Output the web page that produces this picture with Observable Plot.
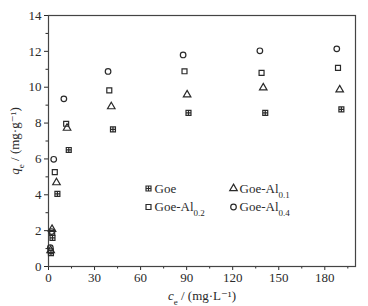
<!DOCTYPE html>
<html>
<head>
<meta charset="utf-8">
<script src="https://cdn.jsdelivr.net/npm/d3@7"></script>
<script src="https://cdn.jsdelivr.net/npm/@observablehq/plot@0.6"></script>
<style>
  html, body { margin: 0; padding: 0; background: #fff; }
  svg text { font-family: "Liberation Serif", "DejaVu Serif", serif; }
</style>
</head>
<body>
<div id="chart"></div>
<script>
// ---- data ----
const seriesNames = ["Goe", "Goe-Al0.1", "Goe-Al0.2", "Goe-Al0.4"];
const goeX  = [1.6, 2.6, 5.8, 13.2, 42.0, 91.2, 141.2, 190.8];
const goeY  = [0.75, 1.6, 4.05, 6.5, 7.65, 8.57, 8.57, 8.76];
const al01X = [1.4, 2.3, 5.2, 12.1, 40.9, 90.3, 139.9, 189.7];
const al01Y = [0.9, 2.08, 4.68, 7.72, 8.92, 9.58, 9.97, 9.86];
const al02X = [1.5, 2.4, 4.1, 11.5, 39.6, 88.6, 138.8, 188.6];
const al02Y = [0.85, 1.88, 5.26, 7.96, 9.82, 10.89, 10.80, 11.08];
const al04X = [1.2, 2.0, 3.4, 10.0, 38.8, 87.7, 137.7, 187.8];
const al04Y = [1.05, 1.95, 5.98, 9.35, 10.88, 11.8, 12.03, 12.14];
const xTicks = [0, 30, 60, 90, 120, 150, 180];
const xMinorTicks = [15, 45, 75, 105, 135, 165, 195];
const yTicks = [0, 2, 4, 6, 8, 10, 12, 14];
const yMinorTicks = [1, 3, 5, 7, 9, 11, 13];
const xLabel = "ce / (mg·L⁻¹)";
const yLabel = "qe / (mg·g⁻¹)";

// ---- symbols ----
const squarePlus = {
  draw(ctx, size) {
    const w = Math.sqrt(size) / 2;
    ctx.moveTo(-w, -w); ctx.lineTo(w, -w); ctx.lineTo(w, w); ctx.lineTo(-w, w); ctx.closePath();
    ctx.moveTo(0, -w); ctx.lineTo(0, w);
    ctx.moveTo(-w, 0); ctx.lineTo(w, 0);
  }
};
const symbols = [squarePlus, "triangle", "square", "circle"];
const xs = [goeX, al01X, al02X, al04X];
const ys = [goeY, al01Y, al02Y, al04Y];

const ink = "#2a2a2a";
const R = 2.8;
const marks = [];

// axes
marks.push(Plot.axisX({ticks: xTicks, tickSize: 4, tickPadding: 2, label: null, stroke: ink, fill: ink, fontSize: 13}));
marks.push(Plot.axisX({ticks: xMinorTicks, tickSize: 2.5, text: null, label: null, stroke: ink}));
marks.push(Plot.axisY({ticks: yTicks, tickSize: 4, tickPadding: 3, label: null, stroke: ink, fill: ink, fontSize: 13}));
marks.push(Plot.axisY({ticks: yMinorTicks, tickSize: 2.5, text: null, label: null, stroke: ink}));
marks.push(Plot.frame({stroke: "#444", strokeWidth: 1.2}));

// data points
seriesNames.forEach((name, i) => {
  const data = xs[i].map((x, j) => ({x, y: ys[i][j], s: name}));
  marks.push(Plot.dot(data, {x: "x", y: "y", symbol: symbols[i], r: R, stroke: ink, strokeWidth: 1.2, fill: "none"}));
});

// legend (two columns, two rows)
seriesNames.forEach((name, i) => {
  const col = i % 2, row = Math.floor(i / 2);
  const dx = 100 + col * 85, dy = 173 + row * 18.5;
  marks.push(Plot.dot([name], {frameAnchor: "top-left", dx, dy, symbol: symbols[i], r: R, stroke: ink, strokeWidth: 1.2, fill: "none"}));
  marks.push(Plot.text([name], {text: d => d, frameAnchor: "top-left", lineAnchor: "middle", dx: dx + 6, dy, textAnchor: "start", fontSize: 13, fill: ink}));
});

// axis labels
marks.push(Plot.text([xLabel], {text: d => d, frameAnchor: "bottom", textAnchor: "middle", lineAnchor: "middle", dy: 29, fontSize: 13, fill: ink}));
marks.push(Plot.text([yLabel], {text: d => d, frameAnchor: "left", textAnchor: "middle", lineAnchor: "middle", dx: -34, rotate: -90, fontSize: 13, fill: ink}));

const chart = Plot.plot({
  width: 368,
  height: 306,
  marginLeft: 48,
  marginRight: 13,
  marginTop: 15,
  marginBottom: 40,
  x: {domain: [0, 200]},
  y: {domain: [0, 14]},
  style: {fontFamily: "Liberation Serif, DejaVu Serif, serif", fontSize: "13px", color: ink, background: "#fff"},
  marks
});
document.getElementById("chart").appendChild(chart);

// rich text: subscripts / italics
const svg = d3.select(chart);
svg.selectAll("text").each(function () {
  const el = d3.select(this);
  const t = this.textContent;
  let m;
  if ((m = /^(Goe-Al)(0\.\d)$/.exec(t))) {
    el.text(null);
    el.append("tspan").text(m[1]);
    el.append("tspan").attr("baseline-shift", "sub").attr("font-size", "9px").text(m[2]);
  } else if (t === xLabel || t === yLabel) {
    el.text(null);
    el.append("tspan").attr("font-style", "italic").text(t[0]);
    el.append("tspan").attr("baseline-shift", "sub").attr("font-size", "9px").text(t[1]);
    el.append("tspan").text(t.slice(2));
  }
});
</script>
</body>
</html>
